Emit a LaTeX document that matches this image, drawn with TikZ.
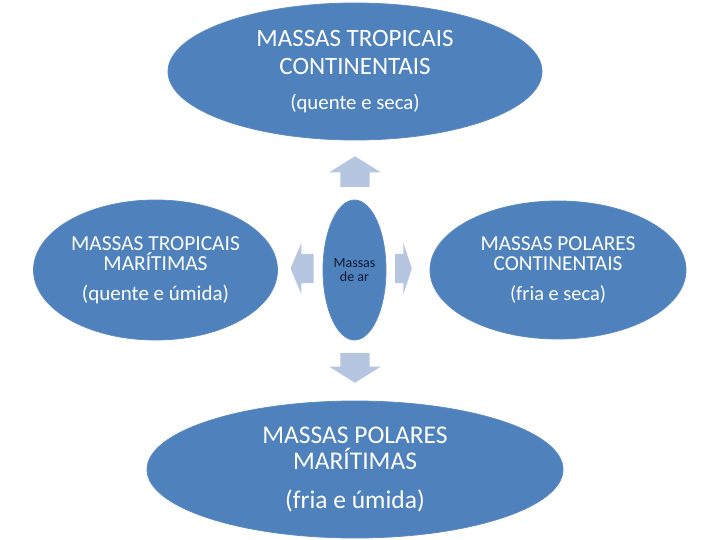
\documentclass[tikz,border=0pt]{standalone}
\usepackage{fontspec}
\setmainfont{Carlito}
\usepackage{tikz}
\usetikzlibrary{shapes.geometric, shapes.arrows}
\definecolor{massblue}{RGB}{79, 129, 189}
\definecolor{arrowblue}{RGB}{182, 197, 224}
\definecolor{darknavy}{RGB}{15, 25, 50}

\begin{document}
\begin{tikzpicture}[x=1pt, y=-1pt,
    massa/.style={ellipse, fill=massblue, draw=massblue!92!white, line width=0.8pt, text=white, align=center, inner sep=0pt},
    seta/.style={single arrow, fill=arrowblue, draw=none, inner xsep=0pt, inner ysep=14.5pt, single arrow head extend=11pt, anchor=tip}]
    \useasboundingbox (0,0) rectangle (720,540);

    \node [massa, minimum width=374pt, minimum height=137pt, font=\fontsize{25}{28}\selectfont] (tc) at (355,71.5) {
        MASSAS TROPICAIS\\CONTINENTAIS\\[7pt]
        \fontsize{20.8}{25}\selectfont (quente e seca)
    };

    \node [massa, minimum width=244pt, minimum height=140pt, font=\fontsize{21.4}{20}\selectfont] (tm) at (155.5,270) {
        MASSAS TROPICAIS\\MARÍTIMAS\\[10pt]
        \fontsize{21}{25}\selectfont (quente e úmida)
    };

    \node [massa, minimum width=256pt, minimum height=138pt, font=\fontsize{21.3}{20}\selectfont] (pc) at (558,270) {
        MASSAS POLARES\\CONTINENTAIS\\[10pt]
        \fontsize{20.4}{25}\selectfont (fria e seca)
    };

    \node [massa, minimum width=416pt, minimum height=137pt, font=\fontsize{25.5}{26}\selectfont] (pm) at (355,469.5) {
        MASSAS POLARES\\MARÍTIMAS\\[13pt]
        \fontsize{25.5}{30}\selectfont (fria e úmida)
    };

    \node [massa, minimum width=63pt, minimum height=140pt, text=darknavy, font=\fontsize{14}{13.7}\selectfont] (ar) at (354.5,270) {
        Massas\\de ar
    };

    % setas a partir do centro
    \node [seta, rotate=90, minimum height=30.7pt, single arrow tip angle=116] (sup) at (355,156) {};
    \node [seta, rotate=-90, minimum height=30pt, single arrow tip angle=116] (inf) at (355,383) {};
    \node [seta, rotate=180, minimum height=23pt, single arrow tip angle=134] (esq) at (290.3,268.5) {};
    \node [seta, minimum height=16.7pt, single arrow tip angle=144] (dir) at (412,268.5) {};
\end{tikzpicture}
\end{document}
